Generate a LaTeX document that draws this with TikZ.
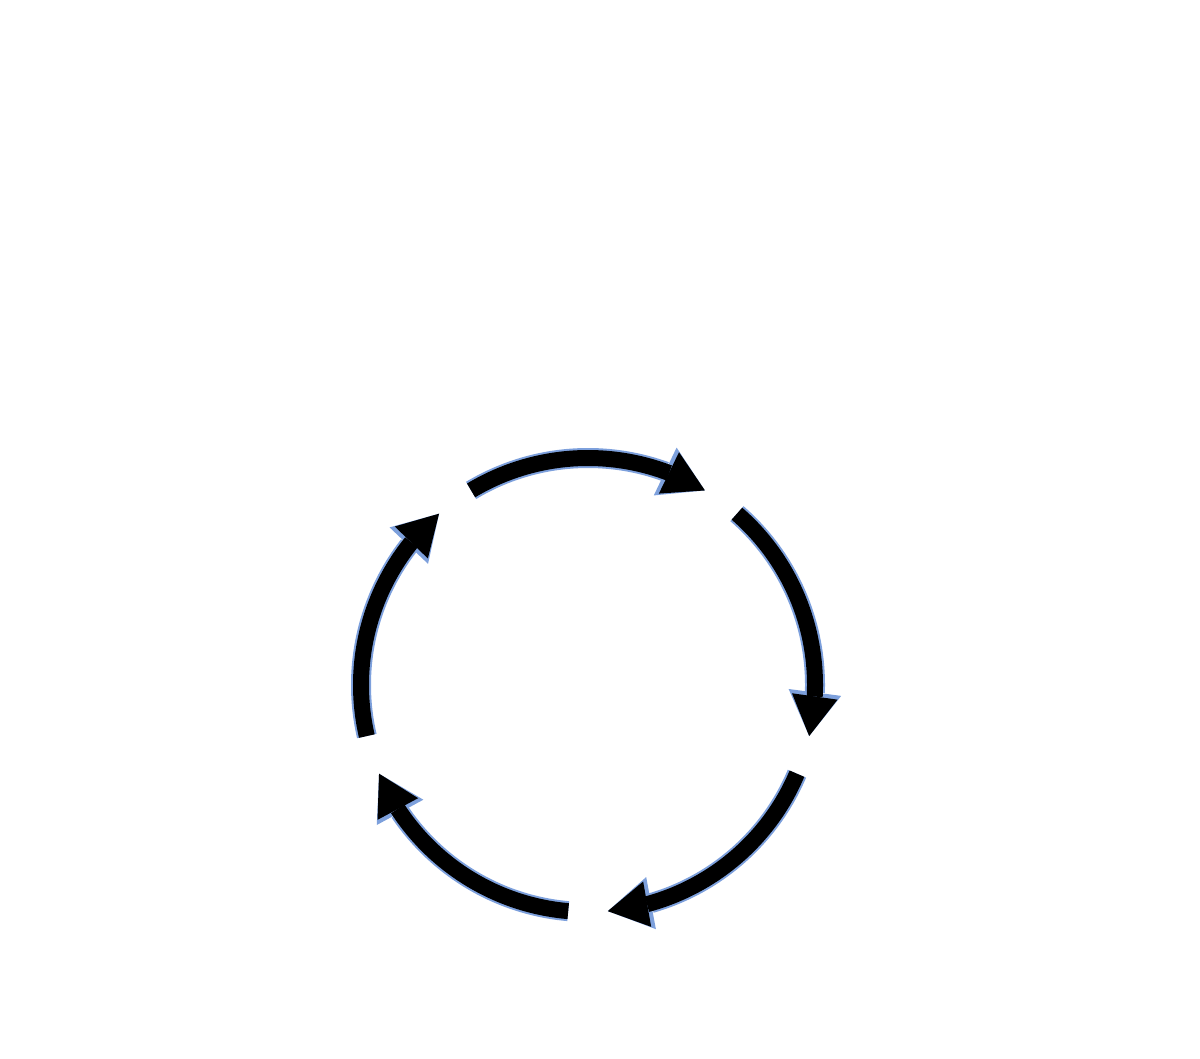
\documentclass[tikz,border=0pt]{standalone}
\usepackage{fontspec}
\setmainfont{Liberation Sans}
\usetikzlibrary{arrows.meta,bending}

\definecolor{edgeblue}{RGB}{125,160,220}

\tikzset{
  cyclearrow/.style={line width=0.16cm, color=black,
    -{Triangle[length=0.40cm, width=0.46cm, line width=0pt, flex]},
    preaction={draw, line width=0.20cm, color=edgeblue,
      -{Triangle[length=0.44cm, width=0.53cm, line width=0pt, flex]}}},
  steplabel/.style={text=white, inner sep=0pt, font=\fontsize{13.4}{15.6}\selectfont},
  titlelabel/.style={text=white, inner sep=0pt, font=\fontsize{18}{22}\selectfont},
}

\begin{document}
\begin{tikzpicture}

\useasboundingbox (0,0) rectangle (12,10.58);

% NODES %%%%%%%%%%%%%%%%%%%%%%%%%%%%%%%%%%%%%%%%%%%%%%%%%%%%%%%%%%%%%%%%%%

\node[titlelabel] (title) at (5.90,9.58) {Custom API Development Cycle};

\node[steplabel, align=center] (needs) at (5.80,7.45) {Identify\\Business\\Needs};
\node[steplabel, align=left, anchor=west] (apis) at (8.62,4.40) {Develop\\Custom APIs};
\node[steplabel, align=left, anchor=west] (systems) at (7.78,1.16) {Integrate\\Systems};
\node[steplabel, align=right, anchor=east] (processes) at (3.96,1.16) {Optimize\\Processes};
\node[steplabel, align=right, anchor=east] (experience) at (3.10,4.45) {Enhance\\Customer\\Experience};

\coordinate (C) at (5.88,3.73);
\coordinate (A1) at ([shift={(121:2.27)}]C);
\coordinate (A2) at ([shift={(49:2.27)}]C);
\coordinate (A3) at ([shift={(-23:2.27)}]C);
\coordinate (A4) at ([shift={(-95:2.27)}]C);
\coordinate (A5) at ([shift={(-167:2.27)}]C);

% LINKS %%%%%%%%%%%%%%%%%%%%%%%%%%%%%%%%%%%%%%%%%%%%%%%%%%%%%%%%%%%%%%%%%%

\draw[cyclearrow] (A1) arc[start angle=121, end angle=59, radius=2.27];
\draw[cyclearrow] (A2) arc[start angle=49, end angle=-13, radius=2.27];
\draw[cyclearrow] (A3) arc[start angle=-23, end angle=-85, radius=2.27];
\draw[cyclearrow] (A4) arc[start angle=-95, end angle=-157, radius=2.27];
\draw[cyclearrow] (A5) arc[start angle=-167, end angle=-229, radius=2.27];

\end{tikzpicture}
\end{document}
